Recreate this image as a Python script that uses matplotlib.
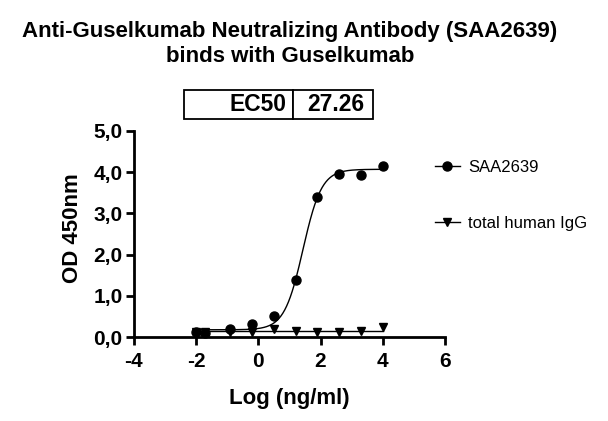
import numpy as np
import matplotlib
matplotlib.use("Agg")
import matplotlib.pyplot as plt
from matplotlib.ticker import FuncFormatter

plt.rcParams["font.family"] = ["Liberation Sans", "DejaVu Sans"]
plt.rcParams["axes.unicode_minus"] = False

# data
log_conc = [-2.0, -1.7, -0.9, -0.2, 0.5, 1.2, 1.9, 2.6, 3.3, 4.0]
od_saa2639 = [0.12, 0.10, 0.20, 0.33, 0.52, 1.38, 3.40, 3.95, 3.94, 4.14]
od_igg = [0.12, 0.13, 0.12, 0.12, 0.20, 0.15, 0.12, 0.13, 0.16, 0.24]
series_names = ["SAA2639", "total human IgG"]

# 4PL fit parameters for SAA2639
ec50 = 27.26
fit_bottom = 0.18
fit_top = 4.07
fit_hill = 1.45

title = "Anti-Guselkumab Neutralizing Antibody (SAA2639)\nbinds with Guselkumab"

fig = plt.figure(figsize=(6.08, 4.21), dpi=100)
ax = fig.add_axes([0.220, 0.199, 0.512, 0.490])

xs = np.linspace(min(log_conc), max(log_conc), 300)
fit_curve = fit_bottom + (fit_top - fit_bottom) / (1 + 10 ** (fit_hill * (np.log10(ec50) - xs)))
ax.plot(xs, fit_curve, color="black", lw=1.0)
ax.plot([min(log_conc), max(log_conc)], [np.mean(od_igg)] * 2, color="black", lw=1.0)

ax.plot(log_conc, od_saa2639, "o", color="black", ms=6.5, clip_on=False)
ax.plot(log_conc, od_igg, "v", color="black", ms=5.5, clip_on=False)

ax.set_xlim(-4, 6)
ax.set_ylim(0, 5)
ax.set_xticks([-4, -2, 0, 2, 4, 6])
ax.set_yticks([0, 1, 2, 3, 4, 5])
ax.yaxis.set_major_formatter(FuncFormatter(lambda v, p: f"{v:.1f}".replace(".", ",")))
for s in ["top", "right"]:
    ax.spines[s].set_visible(False)
for s in ["left", "bottom"]:
    ax.spines[s].set_linewidth(2)
ax.tick_params(width=2, length=6, labelsize=15, pad=2)
ax.tick_params(axis="x", pad=5)
for lab in ax.get_xticklabels() + ax.get_yticklabels():
    lab.set_fontweight("bold")

ax.set_xlabel("Log (ng/ml)", fontsize=16, fontweight="bold", labelpad=12)
ax.set_ylabel("OD 450nm", fontsize=16, fontweight="bold")
ax.yaxis.set_label_coords(-0.163, 0.53)

fig.text(0.477, 0.95, title, ha="center", va="top", fontsize=16,
         fontweight="bold", linespacing=1.25)

# EC50 box
tbl = ax.table(cellText=[["EC50", str(ec50)]], colWidths=[0.577, 0.423],
               bbox=[0.161, 1.058, 0.607, 0.141])
tbl.auto_set_font_size(False)
for (r, c), cell in tbl.get_celld().items():
    cell.set_linewidth(1.3)
    cell.get_text().set_fontsize(16.5)
    cell.get_text().set_fontweight("bold")
tbl[0, 0].get_text().set_ha("right")
tbl[0, 0].PAD = 0.06

# legend
h1, = ax.plot([], [], "o-", color="black", ms=6.5, lw=1.0)
h2, = ax.plot([], [], "v-", color="black", ms=5.5, lw=1.0)
fig.legend([h1, h2], series_names, loc="upper left",
           bbox_to_anchor=(0.69, 0.655), frameon=False, fontsize=12,
           labelspacing=2.45, handlelength=1.5, handletextpad=0.5)

fig.savefig("out.png", dpi=100)
